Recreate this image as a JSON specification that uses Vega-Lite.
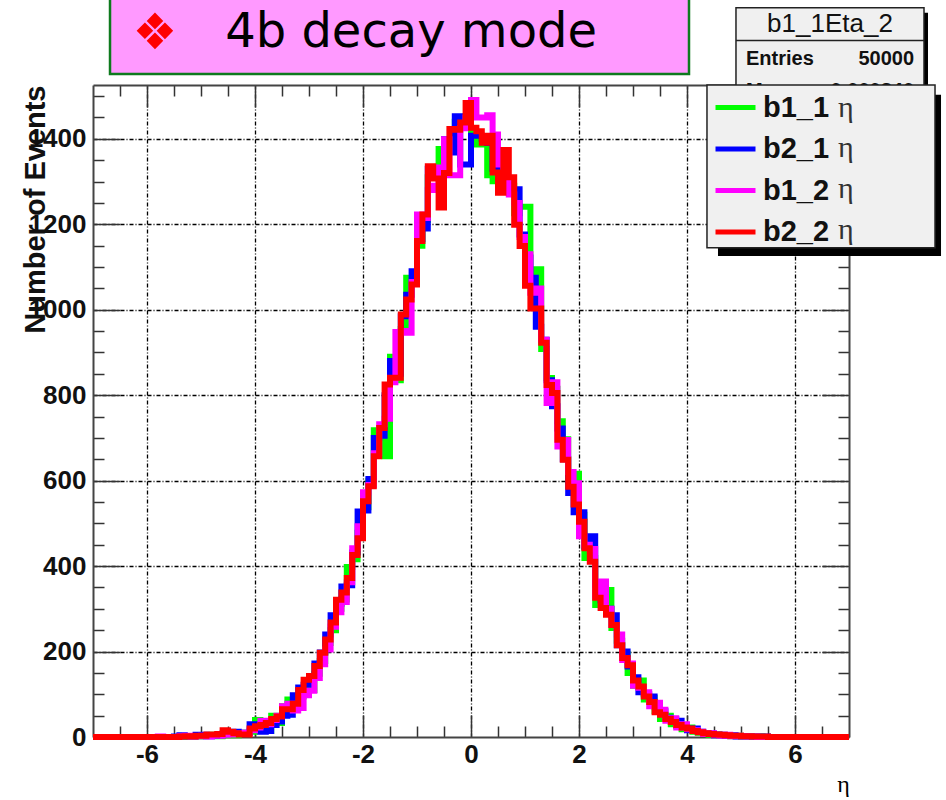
{"$schema":"https://vega.github.io/schema/vega-lite/v6.json","width":756,"height":652,"autosize":"none","padding":{"left":93,"top":85,"right":97,"bottom":63},"background":"white","config":{"view":{"stroke":null},"font":"Liberation Sans"},"data":{"values":[{}]},"resolve":{"axis":{"x":"independent","y":"independent"}},"layer":[
{"data":{"values":[
{"eta":-7.0,"g":0,"b":0,"m":0,"r":0},{"eta":-6.9,"g":0,"b":0,"m":0,"r":0},{"eta":-6.8,"g":0,"b":0,"m":0,"r":0},{"eta":-6.7,"g":0,"b":0,"m":0,"r":0},{"eta":-6.6,"g":0,"b":0,"m":0,"r":0},{"eta":-6.5,"g":0,"b":0,"m":0,"r":0},{"eta":-6.4,"g":0,"b":0,"m":0,"r":0},{"eta":-6.3,"g":0,"b":0,"m":0,"r":0},{"eta":-6.2,"g":0,"b":0,"m":0,"r":0},{"eta":-6.1,"g":0,"b":0,"m":0,"r":0},{"eta":-6.0,"g":0,"b":0,"m":0,"r":0},{"eta":-5.9,"g":0,"b":0,"m":0,"r":0},{"eta":-5.8,"g":0,"b":0,"m":1,"r":0},{"eta":-5.7,"g":0,"b":0,"m":0,"r":0},{"eta":-5.6,"g":0,"b":0,"m":0,"r":0},{"eta":-5.5,"g":0,"b":1,"m":0,"r":0},{"eta":-5.4,"g":0,"b":4,"m":2,"r":1},{"eta":-5.3,"g":1,"b":2,"m":3,"r":2},{"eta":-5.2,"g":1,"b":1,"m":1,"r":1},{"eta":-5.1,"g":1,"b":5,"m":2,"r":3},{"eta":-5.0,"g":2,"b":5,"m":3,"r":3},{"eta":-4.9,"g":3,"b":2,"m":1,"r":6},{"eta":-4.8,"g":5,"b":3,"m":3,"r":6},{"eta":-4.7,"g":2,"b":4,"m":3,"r":7},{"eta":-4.6,"g":6,"b":8,"m":5,"r":16},{"eta":-4.5,"g":4,"b":12,"m":6,"r":12},{"eta":-4.4,"g":4,"b":12,"m":7,"r":9},{"eta":-4.3,"g":10,"b":10,"m":8,"r":6},{"eta":-4.2,"g":10,"b":10,"m":10,"r":6},{"eta":-4.1,"g":12,"b":30,"m":16,"r":20},{"eta":-4.0,"g":40,"b":30,"m":22,"r":25},{"eta":-3.9,"g":20,"b":12,"m":38,"r":28},{"eta":-3.8,"g":14,"b":14,"m":30,"r":33},{"eta":-3.7,"g":50,"b":28,"m":40,"r":42},{"eta":-3.6,"g":33,"b":36,"m":50,"r":48},{"eta":-3.5,"g":72,"b":50,"m":72,"r":65},{"eta":-3.4,"g":88,"b":52,"m":78,"r":65},{"eta":-3.3,"g":85,"b":98,"m":62,"r":78},{"eta":-3.2,"g":95,"b":116,"m":68,"r":110},{"eta":-3.1,"g":102,"b":122,"m":98,"r":134},{"eta":-3.0,"g":110,"b":140,"m":108,"r":143},{"eta":-2.9,"g":148,"b":172,"m":138,"r":166},{"eta":-2.8,"g":178,"b":198,"m":170,"r":197},{"eta":-2.7,"g":220,"b":240,"m":205,"r":228},{"eta":-2.6,"g":250,"b":285,"m":258,"r":268},{"eta":-2.5,"g":300,"b":312,"m":292,"r":321},{"eta":-2.4,"g":322,"b":352,"m":316,"r":338},{"eta":-2.3,"g":398,"b":355,"m":362,"r":372},{"eta":-2.2,"g":416,"b":432,"m":442,"r":426},{"eta":-2.1,"g":478,"b":528,"m":493,"r":465},{"eta":-2.0,"g":538,"b":530,"m":573,"r":552},{"eta":-1.9,"g":600,"b":604,"m":590,"r":587},{"eta":-1.8,"g":718,"b":700,"m":664,"r":657},{"eta":-1.7,"g":718,"b":705,"m":732,"r":723},{"eta":-1.6,"g":657,"b":800,"m":745,"r":825},{"eta":-1.5,"g":890,"b":880,"m":830,"r":841},{"eta":-1.4,"g":835,"b":850,"m":948,"r":841},{"eta":-1.3,"g":955,"b":985,"m":950,"r":989},{"eta":-1.2,"g":1075,"b":1035,"m":946,"r":1024},{"eta":-1.1,"g":1060,"b":1090,"m":1065,"r":1059},{"eta":-1.0,"g":1150,"b":1165,"m":1223,"r":1161},{"eta":-0.9,"g":1210,"b":1190,"m":1215,"r":1223},{"eta":-0.8,"g":1310,"b":1330,"m":1280,"r":1336},{"eta":-0.7,"g":1328,"b":1328,"m":1290,"r":1307},{"eta":-0.6,"g":1376,"b":1320,"m":1333,"r":1239},{"eta":-0.5,"g":1395,"b":1399,"m":1399,"r":1320},{"eta":-0.4,"g":1370,"b":1368,"m":1315,"r":1423},{"eta":-0.3,"g":1440,"b":1453,"m":1315,"r":1421},{"eta":-0.2,"g":1430,"b":1340,"m":1425,"r":1438},{"eta":-0.1,"g":1452,"b":1340,"m":1450,"r":1484},{"eta":0.0,"g":1415,"b":1407,"m":1491,"r":1426},{"eta":0.1,"g":1387,"b":1407,"m":1450,"r":1418},{"eta":0.2,"g":1395,"b":1400,"m":1450,"r":1391},{"eta":0.3,"g":1315,"b":1390,"m":1455,"r":1407},{"eta":0.4,"g":1301,"b":1330,"m":1410,"r":1321},{"eta":0.5,"g":1310,"b":1352,"m":1340,"r":1274},{"eta":0.6,"g":1300,"b":1293,"m":1305,"r":1374},{"eta":0.7,"g":1290,"b":1282,"m":1270,"r":1310},{"eta":0.8,"g":1226,"b":1282,"m":1250,"r":1199},{"eta":0.9,"g":1241,"b":1176,"m":1170,"r":1149},{"eta":1.0,"g":1241,"b":1122,"m":1130,"r":1056},{"eta":1.1,"g":1060,"b":1075,"m":1040,"r":1003},{"eta":1.2,"g":1095,"b":960,"m":1050,"r":1003},{"eta":1.3,"g":908,"b":930,"m":930,"r":923},{"eta":1.4,"g":840,"b":835,"m":782,"r":824},{"eta":1.5,"g":815,"b":774,"m":830,"r":805},{"eta":1.6,"g":739,"b":722,"m":680,"r":696},{"eta":1.7,"g":697,"b":650,"m":695,"r":649},{"eta":1.8,"g":600,"b":571,"m":620,"r":586},{"eta":1.9,"g":616,"b":526,"m":594,"r":544},{"eta":2.0,"g":520,"b":526,"m":470,"r":504},{"eta":2.1,"g":419,"b":445,"m":450,"r":442},{"eta":2.2,"g":419,"b":470,"m":440,"r":410},{"eta":2.3,"g":309,"b":356,"m":330,"r":326},{"eta":2.4,"g":345,"b":320,"m":364,"r":302},{"eta":2.5,"g":344,"b":300,"m":300,"r":286},{"eta":2.6,"g":255,"b":285,"m":262,"r":262},{"eta":2.7,"g":225,"b":215,"m":240,"r":215},{"eta":2.8,"g":195,"b":200,"m":180,"r":185},{"eta":2.9,"g":150,"b":165,"m":172,"r":168},{"eta":3.0,"g":120,"b":140,"m":120,"r":132},{"eta":3.1,"g":132,"b":105,"m":115,"r":118},{"eta":3.2,"g":88,"b":100,"m":105,"r":95},{"eta":3.3,"g":92,"b":95,"m":72,"r":82},{"eta":3.4,"g":60,"b":72,"m":80,"r":58},{"eta":3.5,"g":42,"b":60,"m":64,"r":52},{"eta":3.6,"g":50,"b":45,"m":38,"r":42},{"eta":3.7,"g":30,"b":42,"m":44,"r":35},{"eta":3.8,"g":26,"b":38,"m":22,"r":28},{"eta":3.9,"g":18,"b":28,"m":30,"r":22},{"eta":4.0,"g":22,"b":16,"m":18,"r":20},{"eta":4.1,"g":12,"b":20,"m":16,"r":14},{"eta":4.2,"g":10,"b":12,"m":12,"r":11},{"eta":4.3,"g":9,"b":8,"m":7,"r":9},{"eta":4.4,"g":5,"b":8,"m":9,"r":7},{"eta":4.5,"g":7,"b":4,"m":6,"r":6},{"eta":4.6,"g":3,"b":5,"m":3,"r":5},{"eta":4.7,"g":4,"b":3,"m":5,"r":4},{"eta":4.8,"g":2,"b":4,"m":2,"r":3},{"eta":4.9,"g":3,"b":1,"m":3,"r":3},{"eta":5.0,"g":1,"b":2,"m":2,"r":2},{"eta":5.1,"g":2,"b":1,"m":1,"r":2},{"eta":5.2,"g":0,"b":1,"m":1,"r":1},{"eta":5.3,"g":1,"b":0,"m":0,"r":1},{"eta":5.4,"g":0,"b":1,"m":0,"r":1},{"eta":5.5,"g":0,"b":0,"m":0,"r":0},{"eta":5.6,"g":0,"b":0,"m":0,"r":0},{"eta":5.7,"g":0,"b":0,"m":0,"r":0},{"eta":5.8,"g":0,"b":0,"m":0,"r":0},{"eta":5.9,"g":0,"b":0,"m":0,"r":0},{"eta":6.0,"g":0,"b":0,"m":0,"r":0},{"eta":6.1,"g":0,"b":0,"m":0,"r":0},{"eta":6.2,"g":0,"b":0,"m":0,"r":0},{"eta":6.3,"g":0,"b":0,"m":0,"r":0},{"eta":6.4,"g":0,"b":0,"m":0,"r":0},{"eta":6.5,"g":0,"b":0,"m":0,"r":0},{"eta":6.6,"g":0,"b":0,"m":0,"r":0},{"eta":6.7,"g":0,"b":0,"m":0,"r":0},{"eta":6.8,"g":0,"b":0,"m":0,"r":0},{"eta":6.9,"g":0,"b":0,"m":0,"r":0},{"eta":7.0,"g":0,"b":0,"m":0,"r":0}
]},"transform":[{"fold":["g","b","m","r"],"as":["key","events"]},{"calculate":"{g:'b1_1',b:'b2_1',m:'b1_2',r:'b2_2'}[datum.key]","as":"series"}],
"mark":{"type":"line","interpolate":"step-after","strokeWidth":6,"strokeCap":"butt","strokeJoin":"miter"},
"encoding":{
"x":{"field":"eta","type":"quantitative","scale":{"domain":[-7,7],"nice":false,"zero":false},"axis":{"values":[-6.5,-6,-5.5,-5,-4.5,-4,-3.5,-3,-2.5,-2,-1.5,-1,-0.5,0,0.5,1,1.5,2,2.5,3,3.5,4,4.5,5,5.5,6,6.5],"title":"η","titleFont":"Liberation Serif","titleFontWeight":"normal","titleFontSize":24,"titleX":750,"titleY":35,"labelExpr":"datum.value % 2 === 0 ? '' + datum.value : ''","labelFont":"Liberation Sans","labelFontWeight":"bold","labelFontSize":26,"labelColor":"#111","labelOverlap":false,"labelPadding":26,"labelFlush":false,"labelBound":false,"grid":true,"gridColor":"#000","gridWidth":1.3,"gridDash":[4,2,1,2],"gridOpacity":{"condition":{"test":"datum.value % 2 === 0","value":1},"value":0},"tickSize":{"condition":{"test":"datum.value % 2 === 0","value":-22},"value":-11},"tickColor":"#333","tickWidth":1.5,"domainColor":"#444","domainWidth":2}},
"y":{"field":"events","type":"quantitative","scale":{"domain":[0,1526],"nice":false,"zero":false},"axis":{"values":[0,50,100,150,200,250,300,350,400,450,500,550,600,650,700,750,800,850,900,950,1000,1050,1100,1150,1200,1250,1300,1350,1400,1450,1500],"title":"Number of Events","titleFont":"Liberation Sans","titleFontWeight":"bold","titleFontSize":29,"titleColor":"#111","titleAlign":"right","titleAngle":-90,"titleX":-43,"titleY":0,"labelExpr":"datum.value % 200 === 0 ? '' + datum.value : ''","labelFont":"Liberation Sans","labelFontWeight":"bold","labelFontSize":26,"labelColor":"#111","labelOverlap":false,"labelPadding":34,"labelBound":false,"grid":true,"gridColor":"#000","gridWidth":1.3,"gridDash":[4,2,1,2],"gridOpacity":{"condition":{"test":"datum.value % 200 === 0 && datum.value > 0","value":1},"value":0},"tickSize":{"condition":{"test":"datum.value % 200 === 0","value":-27},"value":-11},"tickColor":"#333","tickWidth":1.5,"domainColor":"#444","domainWidth":2}},
"color":{"field":"series","type":"nominal","scale":{"domain":["b1_1","b2_1","b1_2","b2_2"],"range":["#00ff00","#0000ff","#ff00ff","#ff0000"]},"legend":{"orient":"none","legendX":620,"legendY":0,"title":null,"padding":0,"symbolType":"stroke","symbolSize":1600,"symbolStrokeWidth":5,"labelFont":"Liberation Sans","labelFontWeight":"bold","labelFontSize":29,"labelColor":"#111","labelOffset":5,"rowPadding":3.5,"zindex":1}}}},
{"mark":{"type":"point","opacity":0},"encoding":{
"x":{"datum":0,"axis":{"orient":"top","title":null,"labels":false,"grid":false,"values":[-6.5,-6,-5.5,-5,-4.5,-4,-3.5,-3,-2.5,-2,-1.5,-1,-0.5,0,0.5,1,1.5,2,2.5,3,3.5,4,4.5,5,5.5,6,6.5],"tickSize":{"condition":{"test":"datum.value % 2 === 0","value":-22},"value":-11},"tickColor":"#333","tickWidth":1.5,"domainColor":"#444","domainWidth":2}},
"y":{"datum":0,"axis":{"orient":"right","title":null,"labels":false,"grid":false,"values":[0,50,100,150,200,250,300,350,400,450,500,550,600,650,700,750,800,850,900,950,1000,1050,1100,1150,1200,1250,1300,1350,1400,1450,1500],"tickSize":{"condition":{"test":"datum.value % 200 === 0","value":-27},"value":-11},"tickColor":"#333","tickWidth":1.5,"domainColor":"#444","domainWidth":2}}}},
{"mark":{"type":"rect","fill":"#ff99ff","stroke":"#0e7a1e","strokeWidth":2.5},"encoding":{"x":{"datum":-6.685,"axis":null},"x2":{"datum":4.037},"y":{"datum":1552,"axis":null},"y2":{"datum":1733}}},
{"mark":{"type":"text","text":"❖","font":"DejaVu Sans","fontSize":50,"color":"#ff0000","align":"center","baseline":"middle"},"encoding":{"x":{"datum":-5.852,"axis":null},"y":{"datum":1646,"axis":null}}},
{"mark":{"type":"text","text":"4b decay mode","font":"DejaVu Sans","fontSize":48,"color":"#000","align":"center","baseline":"middle"},"encoding":{"x":{"datum":-1.11,"axis":null},"y":{"datum":1648,"axis":null}}},
{"mark":{"type":"rect","fill":"#000"},"encoding":{"x":{"datum":4.981,"axis":null},"x2":{"datum":8.463},"y":{"datum":1695,"axis":null},"y2":{"datum":1500}}},
{"mark":{"type":"rect","fill":"#f0f0f0","stroke":"#222","strokeWidth":1.5},"encoding":{"x":{"datum":4.907,"axis":null},"x2":{"datum":8.389},"y":{"datum":1707,"axis":null},"y2":{"datum":1500}}},
{"mark":{"type":"rule","stroke":"#222","strokeWidth":1.5},"encoding":{"x":{"datum":4.907,"axis":null},"x2":{"datum":8.389},"y":{"datum":1630,"axis":null}}},
{"mark":{"type":"text","text":"b1_1Eta_2","font":"Liberation Sans","fontSize":26,"color":"#111","align":"center","baseline":"middle"},"encoding":{"x":{"datum":6.648,"axis":null},"y":{"datum":1669,"axis":null}}},
{"mark":{"type":"text","text":"Entries","font":"Liberation Sans","fontWeight":"bold","fontSize":20,"color":"#111","align":"left","baseline":"middle"},"encoding":{"x":{"datum":5.093,"axis":null},"y":{"datum":1587,"axis":null}}},
{"mark":{"type":"text","text":"50000","font":"Liberation Sans","fontWeight":"bold","fontSize":20,"color":"#111","align":"right","baseline":"middle"},"encoding":{"x":{"datum":8.204,"axis":null},"y":{"datum":1587,"axis":null}}},
{"mark":{"type":"text","text":"Mean","font":"Liberation Sans","fontWeight":"bold","fontSize":20,"color":"#111","align":"left","baseline":"middle"},"encoding":{"x":{"datum":5.093,"axis":null},"y":{"datum":1512,"axis":null}}},
{"mark":{"type":"text","text":"0.000840","font":"Liberation Sans","fontWeight":"bold","fontSize":20,"color":"#111","align":"right","baseline":"middle"},"encoding":{"x":{"datum":8.204,"axis":null},"y":{"datum":1512,"axis":null}}},
{"mark":{"type":"rect","fill":"#2e6e70"},"encoding":{"x":{"datum":8.611,"axis":null},"x2":{"datum":8.704},"y":{"datum":1726,"axis":null},"y2":{"datum":1745}}},
{"mark":{"type":"rect","fill":"#000"},"encoding":{"x":{"datum":4.574,"axis":null},"x2":{"datum":8.704},"y":{"datum":1503,"axis":null},"y2":{"datum":1126}}},
{"mark":{"type":"rect","fill":"#f0f0f0","stroke":"#222","strokeWidth":1.5},"encoding":{"x":{"datum":4.37,"axis":null},"x2":{"datum":8.593},"y":{"datum":1526,"axis":null},"y2":{"datum":1145}}},
{"mark":{"type":"text","text":["η","η","η","η"],"font":"Liberation Serif","fontSize":30,"lineHeight":40.7,"color":"#333","align":"center","baseline":"middle"},"encoding":{"x":{"datum":6.94,"axis":null},"y":{"datum":1473,"axis":null}}}
]}
